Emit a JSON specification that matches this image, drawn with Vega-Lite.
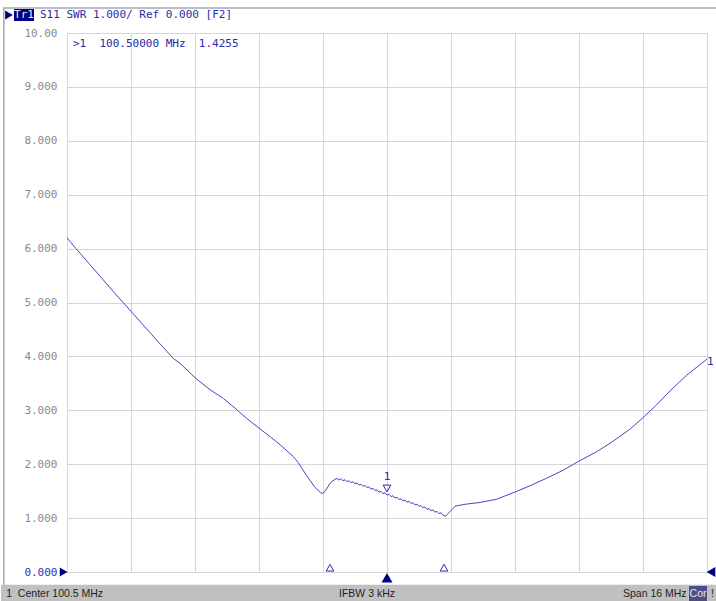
{
  "$schema": "https://vega.github.io/schema/vega-lite/v6.json",
  "width": 640,
  "height": 539,
  "autosize": {"type": "none"},
  "padding": {"left": 67, "top": 33, "right": 9, "bottom": 29},
  "background": "#ffffff",
  "config": {
    "view": {"stroke": "#9c9c9c", "strokeWidth": 1},
    "axis": {"gridColor": "#d6d6d6", "gridWidth": 1, "domain": false, "ticks": false}
  },
  "datasets": {
    "trace": [
      {"f": 92.5, "swr": 6.2}, {"f": 92.725, "swr": 6.0}, {"f": 93.37, "swr": 5.45}, {"f": 93.66, "swr": 5.2},
      {"f": 94.12, "swr": 4.82}, {"f": 94.78, "swr": 4.27}, {"f": 95.16, "swr": 3.96}, {"f": 95.33, "swr": 3.87},
      {"f": 95.72, "swr": 3.59}, {"f": 96.08, "swr": 3.38}, {"f": 96.41, "swr": 3.22}, {"f": 96.7, "swr": 3.04},
      {"f": 96.99, "swr": 2.85}, {"f": 97.3, "swr": 2.67}, {"f": 97.58, "swr": 2.51}, {"f": 97.83, "swr": 2.36},
      {"f": 98.16, "swr": 2.14}, {"f": 98.28, "swr": 2.03}, {"f": 98.49, "swr": 1.79}, {"f": 98.7, "swr": 1.57},
      {"f": 98.84, "swr": 1.47}, {"f": 98.9, "swr": 1.46}, {"f": 98.97, "swr": 1.52}, {"f": 99.08, "swr": 1.65},
      {"f": 99.2, "swr": 1.72},
      {"f": 99.25, "swr": 1.735}, {"f": 99.3, "swr": 1.705}, {"f": 99.35, "swr": 1.733}, {"f": 99.4, "swr": 1.692},
      {"f": 99.45, "swr": 1.713}, {"f": 99.5, "swr": 1.674}, {"f": 99.55, "swr": 1.695}, {"f": 99.6, "swr": 1.656},
      {"f": 99.65, "swr": 1.677}, {"f": 99.7, "swr": 1.636}, {"f": 99.75, "swr": 1.654}, {"f": 99.8, "swr": 1.612},
      {"f": 99.85, "swr": 1.63}, {"f": 99.9, "swr": 1.589}, {"f": 99.95, "swr": 1.607}, {"f": 100.0, "swr": 1.565},
      {"f": 100.05, "swr": 1.581}, {"f": 100.1, "swr": 1.537}, {"f": 100.15, "swr": 1.553}, {"f": 100.2, "swr": 1.51},
      {"f": 100.25, "swr": 1.526}, {"f": 100.3, "swr": 1.482}, {"f": 100.35, "swr": 1.498}, {"f": 100.4, "swr": 1.454},
      {"f": 100.45, "swr": 1.47}, {"f": 100.5, "swr": 1.426}, {"f": 100.55, "swr": 1.443}, {"f": 100.6, "swr": 1.399},
      {"f": 100.65, "swr": 1.415}, {"f": 100.7, "swr": 1.371}, {"f": 100.75, "swr": 1.387}, {"f": 100.8, "swr": 1.343},
      {"f": 100.85, "swr": 1.36}, {"f": 100.9, "swr": 1.318}, {"f": 100.95, "swr": 1.336}, {"f": 101.0, "swr": 1.294},
      {"f": 101.05, "swr": 1.312}, {"f": 101.1, "swr": 1.27}, {"f": 101.15, "swr": 1.287}, {"f": 101.2, "swr": 1.244},
      {"f": 101.25, "swr": 1.26}, {"f": 101.3, "swr": 1.217}, {"f": 101.35, "swr": 1.233}, {"f": 101.4, "swr": 1.19},
      {"f": 101.45, "swr": 1.206}, {"f": 101.5, "swr": 1.162}, {"f": 101.55, "swr": 1.179}, {"f": 101.6, "swr": 1.136},
      {"f": 101.65, "swr": 1.153}, {"f": 101.7, "swr": 1.109}, {"f": 101.75, "swr": 1.126}, {"f": 101.8, "swr": 1.083},
      {"f": 101.85, "swr": 1.099}, {"f": 101.9, "swr": 1.051}, {"f": 101.97, "swr": 1.038},
      {"f": 102.075, "swr": 1.12}, {"f": 102.2, "swr": 1.22}, {"f": 102.325, "swr": 1.24}, {"f": 102.49, "swr": 1.26},
      {"f": 102.825, "swr": 1.29}, {"f": 103.24, "swr": 1.35}, {"f": 103.72, "swr": 1.49}, {"f": 104.075, "swr": 1.6},
      {"f": 104.49, "swr": 1.74}, {"f": 104.91, "swr": 1.89}, {"f": 105.28, "swr": 2.05}, {"f": 105.74, "swr": 2.23},
      {"f": 106.12, "swr": 2.41}, {"f": 106.575, "swr": 2.65}, {"f": 106.88, "swr": 2.85}, {"f": 107.24, "swr": 3.1},
      {"f": 107.575, "swr": 3.36}, {"f": 107.99, "swr": 3.65}, {"f": 108.5, "swr": 3.95}
    ]
  },
  "layer": [
    {
      "data": {"values": [{"f0": 90.85, "f1": 108.8, "v0": -0.235, "v1": -0.56}]},
      "mark": {"type": "rect", "fill": "#c0c0c0"},
      "encoding": {
        "x": {"field": "f0", "type": "quantitative", "scale": {"domain": [92.5, 108.5], "nice": false, "zero": false},
          "axis": {"values": [92.5, 94.1, 95.7, 97.3, 98.9, 100.5, 102.1, 103.7, 105.3, 106.9, 108.5], "labels": false, "title": null, "grid": true}},
        "x2": {"field": "f1"},
        "y": {"field": "v0", "type": "quantitative", "scale": {"domain": [0, 10], "nice": false, "zero": false},
          "axis": {"values": [0, 1, 2, 3, 4, 5, 6, 7, 8, 9, 10], "title": null, "grid": true,
            "labelExpr": "datum.value == 10 ? '10.00' : format(datum.value, '.3f')",
            "labelFont": "DejaVu Sans Mono", "labelFontSize": 11, "labelPadding": 10,
            "labelColor": {"condition": {"test": "datum.value == 0", "value": "#3030b0"}, "value": "#8a8a8a"}}},
        "y2": {"field": "v1"}
      }
    },
    {
      "data": {"values": [{"f0": 90.9, "f1": 108.8, "v": 10.464}]},
      "mark": {"type": "rule", "stroke": "#a8a8a8", "strokeWidth": 1.5},
      "encoding": {"x": {"field": "f0", "type": "quantitative"}, "x2": {"field": "f1"}, "y": {"field": "v", "type": "quantitative"}}
    },
    {
      "data": {"values": [{"f": 90.92, "v0": 10.464, "v1": -0.235}]},
      "mark": {"type": "rule", "stroke": "#a8a8a8", "strokeWidth": 1.5},
      "encoding": {"x": {"field": "f", "type": "quantitative"}, "y": {"field": "v0", "type": "quantitative"}, "y2": {"field": "v1"}}
    },
    {
      "data": {"name": "trace"},
      "mark": {"type": "line", "stroke": "#4646c4", "strokeWidth": 1, "interpolate": "linear"},
      "encoding": {"x": {"field": "f", "type": "quantitative"}, "y": {"field": "swr", "type": "quantitative"}}
    },
    {
      "data": {"values": [{"f0": 91.175, "f1": 91.675, "v0": 10.445, "v1": 10.223}]},
      "mark": {"type": "rect", "fill": "#000080"},
      "encoding": {"x": {"field": "f0", "type": "quantitative"}, "x2": {"field": "f1"}, "y": {"field": "v0", "type": "quantitative"}, "y2": {"field": "v1"}}
    },
    {
      "data": {"values": [{"f": 91.425, "v": 10.334, "label": "Tr1"}]},
      "mark": {"type": "text", "font": "DejaVu Sans Mono", "fontSize": 11, "color": "#e8e8ff", "align": "center", "baseline": "middle"},
      "encoding": {"x": {"field": "f", "type": "quantitative"}, "y": {"field": "v", "type": "quantitative"}, "text": {"field": "label"}}
    },
    {
      "data": {"values": [{"f": 91.825, "v": 10.334, "label": "S11 SWR 1.000/ Ref 0.000 [F2]"}, {"f": 92.65, "v": 9.796, "label": ">1\u00a0\u00a0100.50000 MHz\u00a0\u00a01.4255"}]},
      "mark": {"type": "text", "font": "DejaVu Sans Mono", "fontSize": 11, "color": "#2a2aa8", "align": "left", "baseline": "middle"},
      "encoding": {"x": {"field": "f", "type": "quantitative"}, "y": {"field": "v", "type": "quantitative"}, "text": {"field": "label"}}
    },
    {
      "data": {"values": [{"f": 100.5, "v": 1.77, "label": "1"}]},
      "mark": {"type": "text", "font": "DejaVu Sans Mono", "fontSize": 11, "color": "#2a2aa8", "align": "center", "baseline": "middle"},
      "encoding": {"x": {"field": "f", "type": "quantitative"}, "y": {"field": "v", "type": "quantitative"}, "text": {"field": "label"}}
    },
    {
      "data": {"values": [{"f": 108.5, "v": 3.905, "label": "1"}]},
      "mark": {"type": "text", "font": "DejaVu Sans Mono", "fontSize": 11, "color": "#2a2aa8", "align": "left", "baseline": "middle"},
      "encoding": {"x": {"field": "f", "type": "quantitative"}, "y": {"field": "v", "type": "quantitative"}, "text": {"field": "label"}}
    },
    {
      "data": {"values": [{"f": 100.5, "v": 1.55}]},
      "mark": {"type": "point", "shape": "triangle-down", "filled": false, "stroke": "#2a2aa8", "strokeWidth": 1, "size": 60, "opacity": 1},
      "encoding": {"x": {"field": "f", "type": "quantitative"}, "y": {"field": "v", "type": "quantitative"}}
    },
    {
      "data": {"values": [{"f": 99.075, "v": 0.08}, {"f": 101.925, "v": 0.08}]},
      "mark": {"type": "point", "shape": "triangle-up", "filled": false, "stroke": "#2a2aa8", "strokeWidth": 1, "size": 60, "opacity": 1},
      "encoding": {"x": {"field": "f", "type": "quantitative"}, "y": {"field": "v", "type": "quantitative"}}
    },
    {
      "data": {"values": [{"f": 100.5, "v": -0.105}]},
      "mark": {"type": "point", "shape": "triangle-up", "filled": true, "fill": "#000080", "size": 120, "opacity": 1},
      "encoding": {"x": {"field": "f", "type": "quantitative"}, "y": {"field": "v", "type": "quantitative"}}
    },
    {
      "data": {"values": [{"f": 92.415, "v": 0.0}, {"f": 91.05, "v": 10.334}]},
      "mark": {"type": "point", "shape": "triangle-right", "filled": true, "fill": "#000080", "size": 80, "opacity": 1},
      "encoding": {"x": {"field": "f", "type": "quantitative"}, "y": {"field": "v", "type": "quantitative"}}
    },
    {
      "data": {"values": [{"f": 108.6, "v": 0.0}]},
      "mark": {"type": "point", "shape": "triangle-left", "filled": true, "fill": "#000080", "size": 100, "opacity": 1},
      "encoding": {"x": {"field": "f", "type": "quantitative"}, "y": {"field": "v", "type": "quantitative"}}
    },
    {
      "data": {"values": [{"f0": 108.05, "f1": 108.5, "v0": -0.26, "v1": -0.54}]},
      "mark": {"type": "rect", "fill": "#4e4e86"},
      "encoding": {"x": {"field": "f0", "type": "quantitative"}, "x2": {"field": "f1"}, "y": {"field": "v0", "type": "quantitative"}, "y2": {"field": "v1"}}
    },
    {
      "data": {"values": [{"f": 108.275, "v": -0.405, "label": "Cor"}]},
      "mark": {"type": "text", "font": "Liberation Sans", "fontSize": 10.5, "color": "#e6e6f2", "align": "center", "baseline": "middle"},
      "encoding": {"x": {"field": "f", "type": "quantitative"}, "y": {"field": "v", "type": "quantitative"}, "text": {"field": "label"}}
    },
    {
      "data": {"values": [
        {"f": 90.98, "v": -0.405, "label": "1\u00a0\u00a0Center 100.5 MHz"},
        {"f": 99.3, "v": -0.405, "label": "IFBW 3 kHz"},
        {"f": 106.4, "v": -0.405, "label": "Span 16 MHz"},
        {"f": 108.6, "v": -0.405, "label": "!"}
      ]},
      "mark": {"type": "text", "font": "Liberation Sans", "fontSize": 10.5, "color": "#1e1e1e", "align": "left", "baseline": "middle"},
      "encoding": {"x": {"field": "f", "type": "quantitative"}, "y": {"field": "v", "type": "quantitative"}, "text": {"field": "label"}}
    }
  ]
}
